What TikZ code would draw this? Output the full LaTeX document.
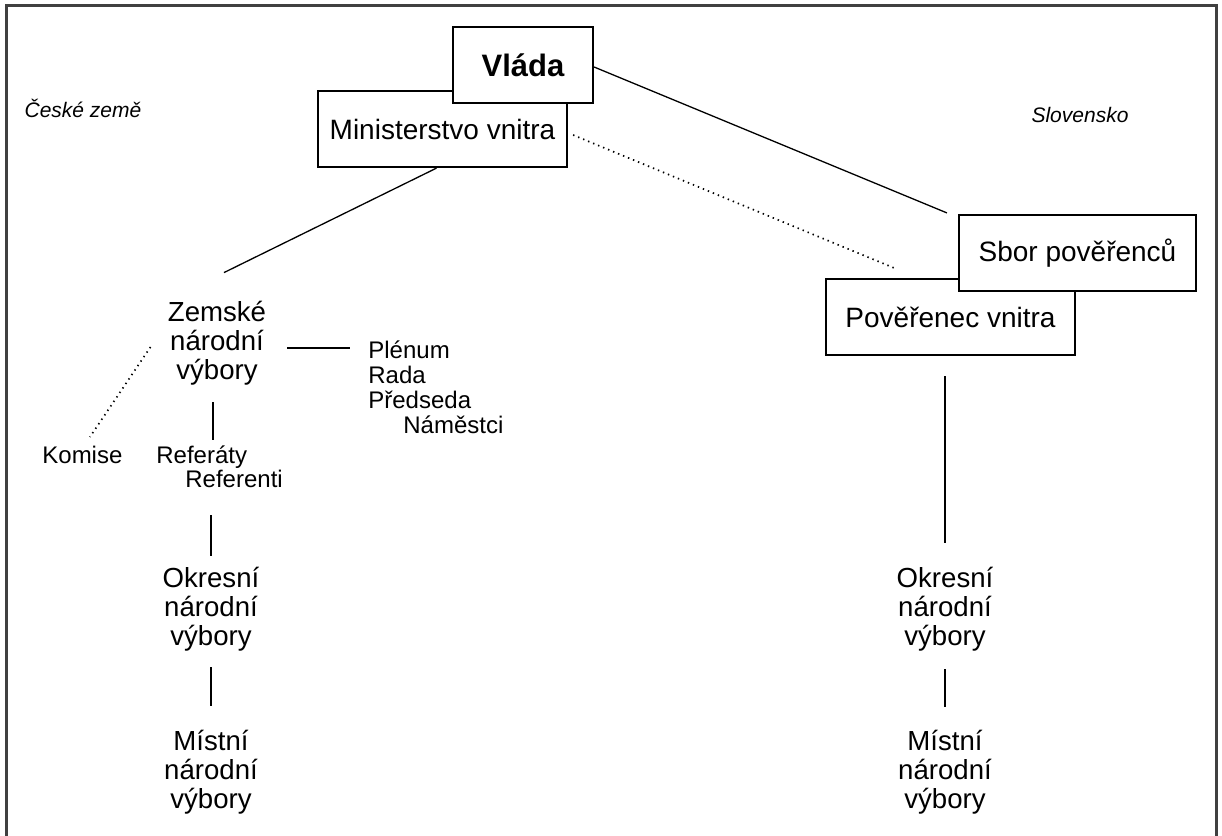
\documentclass[tikz,border=0pt]{standalone}
\usepackage{fontspec}
\setmainfont{Liberation Sans}

\begin{document}
\begin{tikzpicture}[x=0.5pt,y=-0.5pt,
		box/.style={draw, line width=1.1pt, fill=white, minimum height=38pt, inner sep=0pt, font=\fontsize{14}{16}\selectfont},
		org/.style={align=center, inner sep=0pt, font=\fontsize{13.8}{14.5}\selectfont},
		sub/.style={align=left, inner sep=0pt, font=\fontsize{12}{12.5}\selectfont},
		land/.style={inner sep=0pt, font=\fontsize{10.5}{12}\selectfont\itshape},
		link/.style={line width=0.65pt},
		weak/.style={line width=0.85pt, dash pattern=on 0.7pt off 2pt}]
		\useasboundingbox (0,0) rectangle (1222,836);
		\draw[line width=1.5pt, black!75] (6,836) -- (6,5) -- (1216,5) -- (1216,836);

		% boxes
		\node[box, minimum width=124.5pt] (minv) at (442.5,129) {Ministerstvo vnitra};
		\node[box, minimum width=70pt, font=\fontsize{15.5}{17}\selectfont\bfseries] (vlada) at (523,65) {\raisebox{-3.5pt}{Vláda}};
		\node[box, minimum width=124.5pt] (pov) at (950.5,317) {Pověřenec vnitra};
		\node[box, minimum width=118.5pt] (sbor) at (1077.5,253) {Sbor pověřenců};

		% texts
		\node[land] (cesko) at (83,108) {České země};
		\node[land] (slovensko) at (1080,115) {Slovensko};

		\node[org] (zemske) at (217,343) {Zemské\\národní\\výbory};
		\node[sub, anchor=north west] (plenum) at (368,340) {Plénum\\Rada\\Předseda\\\hspace*{17.5pt}Náměstci};
		\node[sub, anchor=north west] (komise) at (42,446) {Komise};
		\node[sub, anchor=north west, font=\fontsize{12}{11}\selectfont] (referaty) at (156,445) {Referáty\\\hspace*{14.5pt}Referenti};

		\node[org] (okresL) at (211,609) {Okresní\\národní\\výbory};
		\node[org] (mistniL) at (211,772) {Místní\\národní\\výbory};
		\node[org] (okresR) at (945,609) {Okresní\\národní\\výbory};
		\node[org] (mistniR) at (945,772) {Místní\\národní\\výbory};

		% connectors
		\draw[link] ([yshift=-1pt]vlada.east) -- ([shift={(-5.5pt,0.5pt)}]sbor.north west);
		\draw[weak] ([shift={(2.5pt,-3pt)}]minv.east) -- ([shift={(34.5pt,5pt)}]pov.north west);
		\draw[link] ([xshift=-3pt]minv.south) -- ([shift={(3.5pt,14pt)}]zemske.north);

		\draw[link] ([shift={(10.5pt,-2.5pt)}]zemske.east) -- ([shift={(-9pt,-2.5pt)}]plenum.west |- zemske.east);
		\draw[weak] ([shift={(-8.5pt,-2pt)}]zemske.west) -- ([shift={(3.75pt,4.5pt)}]komise.north);
		\draw[link, shorten <=8.5pt, shorten >=2.5pt] ([xshift=-2pt]zemske.south) -- ([xshift=-2pt]zemske.south |- referaty.north);
		\draw[link, shorten <=13.5pt, shorten >=5.5pt] (okresL.north |- referaty.south) -- (okresL.north);
		\draw[link, shorten <=8pt, shorten >=12pt] (okresL.south) -- (mistniL.north);

		\draw[link, shorten <=10pt, shorten >=12pt] (pov.south -| okresR.north) -- (okresR.north);
		\draw[link, shorten <=9pt, shorten >=11.5pt] (okresR.south) -- (mistniR.north);
\end{tikzpicture}
\end{document}
